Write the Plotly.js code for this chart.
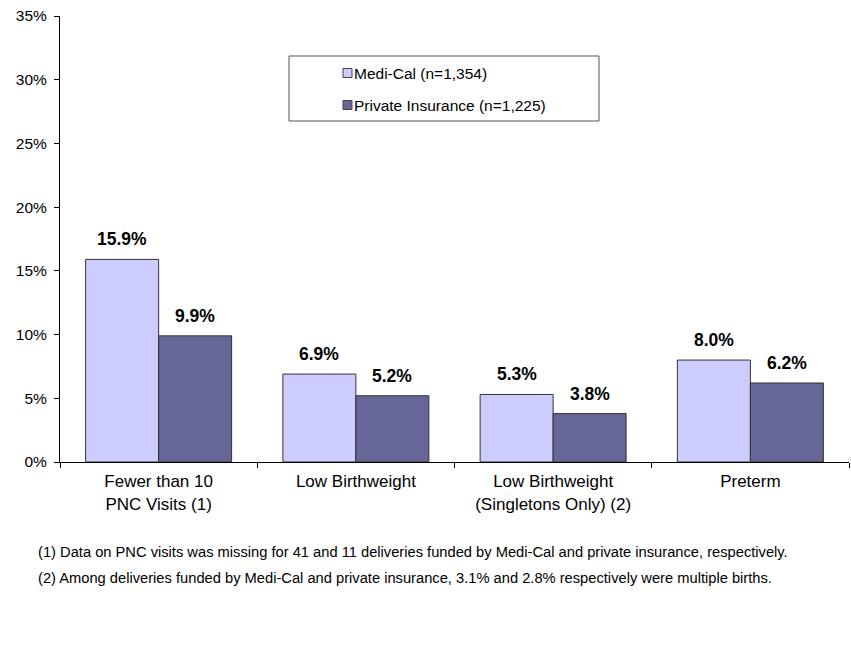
<!DOCTYPE html>
<html><head><meta charset="utf-8">
<script src="https://cdn.plot.ly/plotly-3.0.1.min.js"></script>
<style>html,body{margin:0;padding:0;background:#fff}#chart{width:851px;height:645px}</style>
</head><body><div id="chart"></div>
<script>
var categories = ["Fewer than 10<br>PNC Visits (1)", "Low Birthweight", "Low Birthweight<br>(Singletons Only) (2)", "Preterm"];
var mediCal = [15.9, 6.9, 5.3, 8.0];
var privateIns = [9.9, 5.2, 3.8, 6.2];
var seriesNames = ["Medi-Cal (n=1,354)", "Private Insurance (n=1,225)"];
var yTickVals = [0, 5, 10, 15, 20, 25, 30, 35];
var yTickText = ["0%", "5%", "10%", "15%", "20%", "25%", "30%", "35%"];
var footnotes = [
  "(1) Data on PNC visits was missing for 41 and 11 deliveries funded by Medi-Cal and private insurance, respectively.",
  "(2) Among deliveries funded by Medi-Cal and private insurance, 3.1% and 2.8% respectively were multiple births."
];
var colors = ["#CCCCFF", "#666699"];
var bargap = 0.26;
var font = "Arial, 'Liberation Sans', sans-serif";

// plot area geometry (px) for paper-coordinate helpers
var L = 60, T = 16, W = 789, H = 446;
function px(x){ return (x - L) / W; }
function py(y){ return (T + H - y) / H; }

var traces = [
  {type:"bar", x:categories, y:mediCal, name:seriesNames[0], marker:{color:colors[0], line:{color:"#333333", width:1}}, hoverinfo:"y"},
  {type:"bar", x:categories, y:privateIns, name:seriesNames[1], marker:{color:colors[1], line:{color:"#333333", width:1}}, hoverinfo:"y"}
];

var annotations = [];
var off = (1 - bargap) / 4;
[mediCal, privateIns].forEach(function(arr, s){
  arr.forEach(function(v, i){
    annotations.push({x: i + (s === 0 ? -off : off), y: v, xref:"x", yref:"y", text: v.toFixed(1) + "%",
      showarrow:false, yanchor:"bottom", yshift:8, font:{family:font, size:17.5, color:"#000", weight:"bold"}});
  });
});
footnotes.forEach(function(t, i){
  annotations.push({xref:"paper", yref:"paper", x:px(36), y:py(552 + 26*i), xanchor:"left", yanchor:"middle",
    text:t, showarrow:false, font:{family:font, size:14.7, color:"#000"}});
});

// legend (custom box)
var shapes = [{type:"rect", xref:"paper", yref:"paper", x0:px(289), x1:px(599), y0:py(121), y1:py(56),
    line:{color:"#555555", width:1}, fillcolor:"rgba(0,0,0,0)"}];
var legendY = [73, 105];
seriesNames.forEach(function(n, s){
  shapes.push({type:"rect", xref:"paper", yref:"paper", x0:px(343), x1:px(352), y0:py(legendY[s]+4.5), y1:py(legendY[s]-4.5),
    line:{color:"#444444", width:1}, fillcolor:colors[s]});
  annotations.push({xref:"paper", yref:"paper", x:px(352), y:py(legendY[s]), xanchor:"left", yanchor:"middle",
    text:n, showarrow:false, font:{family:font, size:15.5, color:"#000"}});
});

var layout = {
  width:851, height:645,
  margin:{l:L, r:851-L-W, t:T, b:645-T-H},
  paper_bgcolor:"#fff", plot_bgcolor:"#fff",
  font:{family:font, color:"#000"},
  bargap:bargap, bargroupgap:0, barmode:"group",
  xaxis:{type:"category", showline:true, linecolor:"#000", linewidth:1, ticks:"outside", tickson:"boundaries",
    ticklen:5, tickcolor:"#000", tickfont:{size:17, color:"#000"}, ticklabelstandoff:4, showgrid:false, zeroline:false},
  yaxis:{range:[0,35], tickmode:"array", tickvals:yTickVals, ticktext:yTickText, showline:true, linecolor:"#000", linewidth:1,
    ticks:"outside", ticklen:5, tickcolor:"#000", tickfont:{size:15.5, color:"#000"}, ticklabelstandoff:4,
    showgrid:false, zeroline:false},
  showlegend:false,
  shapes:shapes,
  annotations:annotations
};
Plotly.newPlot("chart", traces, layout, {displayModeBar:false, staticPlot:true});
</script></body></html>
